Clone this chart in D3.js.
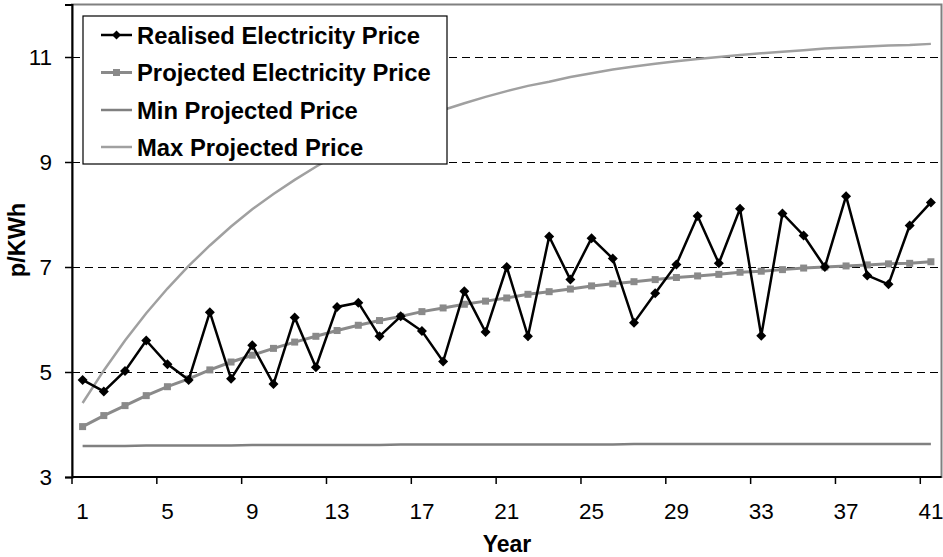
<!DOCTYPE html>
<html>
<head>
<meta charset="utf-8">
<script src="https://cdn.jsdelivr.net/npm/d3@7"></script>
<style>
  html, body { margin: 0; padding: 0; background: #fff; }
  svg { display: block; font-family: "Liberation Sans", Arial, sans-serif; }
</style>
</head>
<body>
<svg id="chart" width="943" height="557"></svg>
<script>
const years = d3.range(1, 42);
const xTickLabels = [1, 5, 9, 13, 17, 21, 25, 29, 33, 37, 41];
const yTickValues = [3, 5, 7, 9, 11];
const gridValues = [5, 7, 9, 11];

const seriesNames = ["Realised Electricity Price", "Projected Electricity Price", "Min Projected Price", "Max Projected Price"];

const realised = [4.85,4.63,5.02,5.60,5.15,4.85,6.14,4.87,5.51,4.77,
  6.04,5.09,6.24,6.32,5.68,6.06,5.78,5.20,6.54,5.76,
  7.00,5.68,7.58,6.76,7.55,7.16,5.94,6.50,7.05,7.97,
  7.07,8.11,5.69,8.02,7.60,7.00,8.35,6.84,6.67,7.79,8.23];

const projected = [3.96,4.17,4.36,4.55,4.72,4.87,5.04,5.19,5.32,5.45,
  5.57,5.68,5.79,5.89,5.98,6.06,6.15,6.22,6.29,6.35,
  6.41,6.48,6.53,6.58,6.64,6.68,6.72,6.76,6.80,6.83,
  6.86,6.90,6.92,6.95,6.98,7.00,7.02,7.04,7.06,7.07,7.10];

const minProjected = [3.59,3.59,3.59,3.60,3.60,3.60,3.60,3.60,3.61,3.61,
  3.61,3.61,3.61,3.61,3.61,3.62,3.62,3.62,3.62,3.62,
  3.62,3.62,3.62,3.62,3.62,3.62,3.63,3.63,3.63,3.63,
  3.63,3.63,3.63,3.63,3.63,3.63,3.63,3.63,3.63,3.63,3.63];

const maxProjected = [4.41,5.03,5.60,6.12,6.59,7.02,7.41,7.77,8.10,8.39,
  8.66,8.91,9.14,9.34,9.53,9.70,9.85,9.99,10.12,10.24,
  10.35,10.45,10.53,10.62,10.69,10.76,10.82,10.87,10.92,10.96,
  11.00,11.04,11.07,11.10,11.13,11.16,11.18,11.20,11.22,11.23,11.25];

const svg = d3.select("#chart");
const L = 72, R = 941.5, T = 4.5, B = 477;

const x = d3.scaleBand().domain(years).range([L, R]).paddingInner(0).paddingOuter(0);
const cx = d => x(d) + x.bandwidth() / 2;
const y = d3.scaleLinear().domain([3, 12]).range([B, T]);

// plot frame (gray)
svg.append("rect").attr("x", L).attr("y", T).attr("width", R - L).attr("height", B - T)
  .attr("fill", "#fff").attr("stroke", "#808080").attr("stroke-width", 2);

// gridlines
svg.append("g").selectAll("line").data(gridValues).join("line")
  .attr("x1", L).attr("x2", R).attr("y1", d => y(d)).attr("y2", d => y(d))
  .attr("stroke", "#000").attr("stroke-width", 1).attr("stroke-dasharray", "8,5")
  .attr("shape-rendering", "crispEdges");

function line(vals) {
  return d3.line().x((d, i) => cx(years[i])).y(d => y(d))(vals);
}

svg.append("path").attr("d", line(minProjected)).attr("fill", "none")
  .attr("stroke", "#808080").attr("stroke-width", 2.5);
svg.append("path").attr("d", line(maxProjected)).attr("fill", "none")
  .attr("stroke", "#a0a0a0").attr("stroke-width", 2.5);
svg.append("path").attr("d", line(projected)).attr("fill", "none")
  .attr("stroke", "#8a8a8a").attr("stroke-width", 3);
svg.append("g").selectAll("rect").data(projected).join("rect")
  .attr("x", (d, i) => cx(years[i]) - 3.5).attr("y", d => y(d) - 3.5)
  .attr("width", 7).attr("height", 7).attr("fill", "#8a8a8a");

svg.append("path").attr("d", line(realised)).attr("fill", "none")
  .attr("stroke", "#000").attr("stroke-width", 2.5);
const diamond = s => `M0,${-s}L${s},0L0,${s}L${-s},0Z`;
svg.append("g").selectAll("path").data(realised).join("path")
  .attr("transform", (d, i) => `translate(${cx(years[i])},${y(d)})`)
  .attr("d", diamond(5)).attr("fill", "#000");

// axes
const yAxis = d3.axisLeft(y).tickValues(yTickValues).tickSize(7).tickPadding(13).tickFormat(d3.format("d"));
const gy = svg.append("g").attr("transform", `translate(${L},0)`).call(yAxis);
gy.select(".domain").attr("stroke", "#000").attr("stroke-width", 2);
gy.selectAll(".tick line").attr("stroke", "#000").attr("stroke-width", 1.5);
gy.selectAll(".tick text").attr("font-size", 22.5).attr("fill", "#000");

const xAxis = d3.axisBottom(x).tickValues(xTickLabels).tickSize(0).tickPadding(26).tickSizeOuter(0);
const gx = svg.append("g").attr("transform", `translate(0,${B})`).call(xAxis);
gx.select(".domain").remove();
gx.selectAll(".tick text").attr("font-size", 22.5).attr("fill", "#000");
svg.append("line").attr("x1", L).attr("x2", R).attr("y1", B).attr("y2", B)
  .attr("stroke", "#000").attr("stroke-width", 2);
svg.append("g").selectAll("line").data(xTickLabels).join("line")
  .attr("x1", d => x(d)).attr("x2", d => x(d)).attr("y1", B).attr("y2", B + 7)
  .attr("stroke", "#000").attr("stroke-width", 1.5);

// axis titles
svg.append("text").attr("x", 507).attr("y", 552).attr("text-anchor", "middle")
  .attr("font-size", 23).attr("font-weight", "bold").text("Year");
svg.append("text").attr("transform", `translate(25,240) rotate(-90)`)
  .attr("text-anchor", "middle").attr("font-size", 23.5).attr("font-weight", "bold").text("p/KWh");

// legend
const lg = svg.append("g");
lg.append("rect").attr("x", 83).attr("y", 16).attr("width", 364).attr("height", 148)
  .attr("fill", "#fff").attr("stroke", "#000").attr("stroke-width", 1.2);
const rowY = [35, 72.5, 110, 147];
const legendStyles = [
  { stroke: "#000", w: 2.5, marker: "diamond" },
  { stroke: "#8a8a8a", w: 3, marker: "square" },
  { stroke: "#808080", w: 2.5, marker: null },
  { stroke: "#a0a0a0", w: 2.5, marker: null }
];
seriesNames.forEach((name, i) => {
  const st = legendStyles[i];
  const yy = rowY[i];
  lg.append("line").attr("x1", 101).attr("x2", 132).attr("y1", yy).attr("y2", yy)
    .attr("stroke", st.stroke).attr("stroke-width", st.w);
  if (st.marker === "diamond") {
    lg.append("path").attr("transform", `translate(116.5,${yy})`).attr("d", diamond(4.5)).attr("fill", "#000");
  } else if (st.marker === "square") {
    lg.append("rect").attr("x", 113).attr("y", yy - 3.5).attr("width", 7).attr("height", 7).attr("fill", "#8a8a8a");
  }
  lg.append("text").attr("x", 137).attr("y", yy).attr("dy", "0.36em")
    .attr("font-size", 23.8).attr("font-weight", "bold").text(name);
});
</script>
</body>
</html>
